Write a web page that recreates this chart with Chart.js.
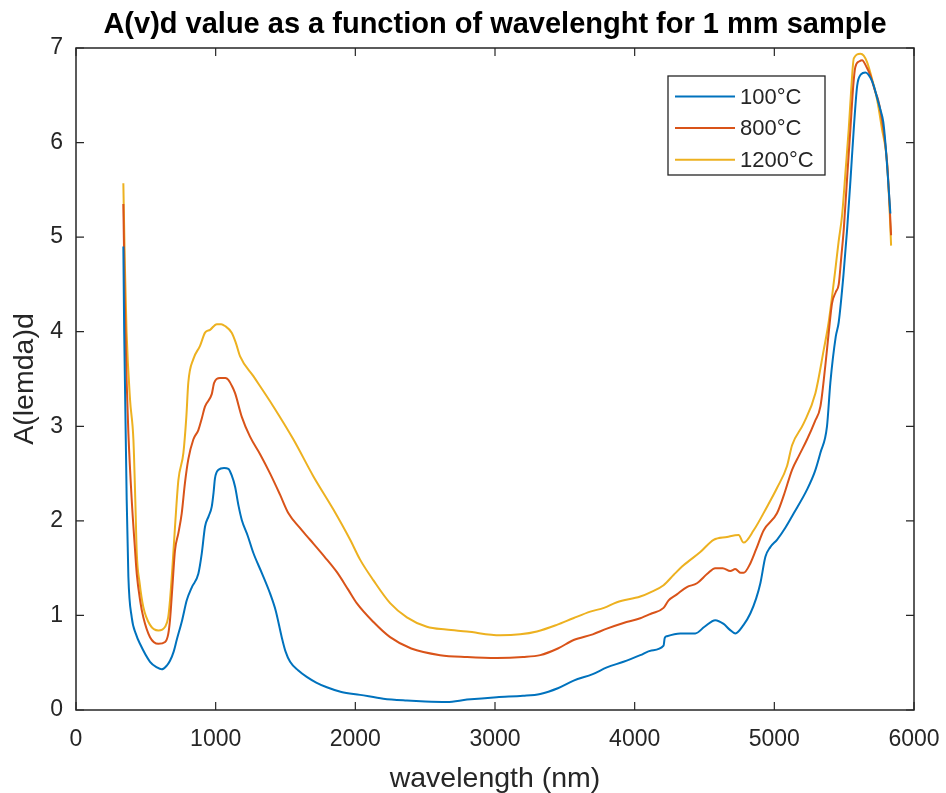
<!DOCTYPE html>
<html>
<head>
<meta charset="utf-8">
<script src="https://cdn.jsdelivr.net/npm/chart.js@4.4.1/dist/chart.umd.min.js"></script>
<style>
html,body{margin:0;padding:0;background:#fff;}
#wrap{width:946px;height:793px;position:relative;}
</style>
</head>
<body>
<div id="wrap"><canvas id="c" width="946" height="793"></canvas></div>
<script>
// ---- data ----
const seriesLabels = ['100°C', '800°C', '1200°C'];
const seriesColors = ['#0072BD', '#D95319', '#EDB120'];

const wl100 = [339,345,363,375,399,430,458,530,580,614,650,673,700,721,760,793,830,876,900,924,950,972,985,995,1020,1060,1091,1115,1139,1165,1187,1230,1270,1330,1390,1430,1473,1500,1533,1590,1652,1720,1796,1900,2034,2200,2369,2500,2655,2800,3013,3200,3324,3450,3563,3700,3801,3920,4040,4120,4207,4215,4231,4327,4434,4500,4577,4637,4680,4721,4780,4828,4870,4900,4936,4970,5019,5080,5139,5234,5290,5330,5377,5401,5440,5461,5495,5521,5545,5569,5593,5620,5652,5690,5712,5740,5759,5780,5795,5810,5831];
const val100 = [4.9,4.0,2.22,1.41,0.98,0.80,0.70,0.51,0.45,0.43,0.47,0.52,0.62,0.74,0.95,1.16,1.30,1.44,1.65,1.94,2.05,2.15,2.30,2.45,2.54,2.56,2.55,2.48,2.36,2.15,2.01,1.84,1.66,1.45,1.23,1.05,0.77,0.62,0.51,0.42,0.35,0.29,0.24,0.19,0.16,0.12,0.10,0.09,0.085,0.11,0.136,0.15,0.17,0.23,0.31,0.38,0.45,0.51,0.58,0.63,0.68,0.76,0.78,0.81,0.81,0.88,0.95,0.91,0.85,0.81,0.90,1.02,1.18,1.34,1.62,1.72,1.80,1.93,2.08,2.33,2.52,2.72,3.0,3.46,3.95,4.1,4.6,5.08,5.6,6.15,6.60,6.72,6.74,6.68,6.60,6.45,6.35,6.22,6.0,5.7,5.25];

const wl800 = [339,350,362,375,399,420,435,460,482,530,590,638,660,673,690,709,733,757,780,804,840,876,900,924,972,989,1031,1070,1091,1115,1139,1187,1246,1320,1390,1460,1521,1600,1676,1780,1867,1950,2010,2130,2249,2400,2607,2800,3013,3200,3324,3450,3563,3700,3801,3920,4040,4120,4207,4243,4300,4374,4446,4520,4577,4630,4685,4720,4760,4780,4828,4870,4924,5019,5070,5127,5180,5234,5290,5330,5365,5390,5413,5440,5461,5480,5497,5520,5545,5565,5580,5610,5628,5660,5688,5720,5747,5780,5807,5825,5836];
const val800 = [5.35,4.3,3.5,2.93,2.22,1.75,1.44,1.15,0.98,0.77,0.70,0.72,0.80,0.95,1.3,1.69,1.87,2.08,2.40,2.65,2.86,2.96,3.08,3.21,3.34,3.46,3.51,3.51,3.49,3.43,3.35,3.10,2.89,2.70,2.50,2.28,2.08,1.93,1.80,1.62,1.46,1.27,1.13,0.93,0.77,0.65,0.58,0.56,0.55,0.56,0.58,0.65,0.74,0.80,0.86,0.92,0.97,1.02,1.08,1.16,1.22,1.30,1.34,1.44,1.50,1.50,1.47,1.49,1.45,1.45,1.55,1.70,1.90,2.08,2.28,2.54,2.70,2.86,3.05,3.21,3.64,4.0,4.3,4.42,4.5,4.8,5.08,5.6,6.15,6.6,6.80,6.86,6.87,6.80,6.71,6.55,6.43,6.15,5.79,5.35,5.02];

const wl1200 = [339,350,362,387,411,425,435,455,482,530,590,638,660,673,690,709,733,769,790,804,840,888,924,960,1008,1040,1067,1115,1145,1175,1270,1413,1557,1700,1843,1963,2034,2130,2249,2369,2512,2650,2799,3037,3180,3300,3443,3560,3682,3780,3873,4040,4120,4207,4280,4350,4470,4565,4661,4744,4780,4852,4948,5020,5091,5127,5210,5294,5354,5389,5437,5460,5485,5510,5533,5550,5569,5616,5640,5664,5700,5735,5770,5807,5825,5836];
const val1200 = [5.57,4.7,4.0,3.28,2.86,2.2,1.66,1.35,1.09,0.90,0.84,0.88,0.98,1.16,1.5,1.94,2.43,2.72,3.1,3.46,3.71,3.85,3.99,4.02,4.08,4.08,4.06,3.99,3.88,3.74,3.53,3.21,2.86,2.47,2.12,1.80,1.59,1.37,1.13,0.98,0.88,0.85,0.83,0.79,0.80,0.83,0.90,0.97,1.04,1.08,1.14,1.20,1.25,1.32,1.43,1.53,1.67,1.80,1.83,1.85,1.77,1.90,2.15,2.35,2.58,2.80,3.03,3.35,3.81,4.10,4.66,4.95,5.23,5.7,6.15,6.55,6.89,6.94,6.92,6.85,6.67,6.46,6.15,5.79,5.3,4.91];

const xTicks = [0,1000,2000,3000,4000,5000,6000];
const yTicks = [0,1,2,3,4,5,6,7];

const titleText = 'A(v)d value as a function of wavelenght for 1 mm sample';
const xTitle = 'wavelength (nm)';
const yTitle = 'A(lemda)d';

// ---- build ----
function pts(xs, ys){ return xs.map((x,i)=>({x:x, y:ys[i]})); }
const allX = [wl100, wl800, wl1200];
const allY = [val100, val800, val1200];
const datasets = seriesLabels.map((lab,i)=>({
  label: lab,
  data: pts(allX[i], allY[i]),
  borderColor: seriesColors[i],
  backgroundColor: seriesColors[i],
  borderWidth: 2,
  pointRadius: 0,
  fill: false,
  cubicInterpolationMode: 'monotone'
}));

const FONT = "'Liberation Sans', Arial, sans-serif";
const AXC = '#262626';

const decor = {
  id: 'decor',
  afterDraw(chart){
    const ctx = chart.ctx;
    const a = chart.chartArea;
    const xs = chart.scales.x, ys = chart.scales.y;
    ctx.save();
    // box
    ctx.strokeStyle = AXC;
    ctx.lineWidth = 1.5;
    ctx.strokeRect(a.left, a.top, a.right - a.left, a.bottom - a.top);
    // inward ticks
    ctx.lineWidth = 1.2;
    const tl = 8;
    ctx.beginPath();
    xTicks.forEach(v=>{
      const p = xs.getPixelForValue(v);
      ctx.moveTo(p, a.bottom); ctx.lineTo(p, a.bottom - tl);
      ctx.moveTo(p, a.top); ctx.lineTo(p, a.top + tl);
    });
    yTicks.forEach(v=>{
      const p = ys.getPixelForValue(v);
      ctx.moveTo(a.left, p); ctx.lineTo(a.left + tl, p);
      ctx.moveTo(a.right, p); ctx.lineTo(a.right - tl, p);
    });
    ctx.stroke();

    // title
    ctx.fillStyle = '#000';
    ctx.font = 'bold 29px ' + FONT;
    ctx.textAlign = 'center';
    ctx.textBaseline = 'alphabetic';
    ctx.fillText(titleText, (a.left + a.right)/2, 33);

    // axis titles
    ctx.fillStyle = AXC;
    ctx.font = '28.5px ' + FONT;
    ctx.fillText(xTitle, (a.left + a.right)/2, 787);
    ctx.save();
    ctx.translate(33, (a.top + a.bottom)/2);
    ctx.rotate(-Math.PI/2);
    ctx.fillText(yTitle, 0, 0);
    ctx.restore();

    // legend
    const lx = a.right - 246, ly = a.top + 28, lw = 157, lh = 99;
    ctx.fillStyle = '#fff';
    ctx.fillRect(lx, ly, lw, lh);
    ctx.strokeStyle = AXC;
    ctx.lineWidth = 1.3;
    ctx.strokeRect(lx, ly, lw, lh);
    ctx.font = '22px ' + FONT;
    ctx.textAlign = 'left';
    ctx.textBaseline = 'middle';
    chart.data.datasets.forEach((ds, i)=>{
      const cy = ly + 20.5 + i*31.6;
      ctx.strokeStyle = ds.borderColor;
      ctx.lineWidth = 2;
      ctx.beginPath();
      ctx.moveTo(lx + 7, cy); ctx.lineTo(lx + 67, cy);
      ctx.stroke();
      ctx.fillStyle = AXC;
      ctx.fillText(ds.label, lx + 72, cy + 1);
    });
    ctx.restore();
  }
};

new Chart(document.getElementById('c'), {
  type: 'line',
  data: { datasets },
  options: {
    responsive: false,
    animation: false,
    parsing: true,
    layout: { padding: { left: 0, right: 32, top: 48, bottom: 0 } },
    plugins: { legend: { display: false }, title: { display: false }, tooltip: { enabled: false } },
    scales: {
      x: {
        type: 'linear', min: 0, max: 6000,
        afterBuildTicks: s => { s.ticks = xTicks.map(v=>({value:v})); },
        afterFit: s => { s.height = 83; s.paddingRight = 0; s.paddingLeft = 0; },
        grid: { display: false, drawTicks: false },
        border: { display: false },
        ticks: { font: { size: 23, family: FONT }, color: AXC, padding: 16, maxRotation: 0,
                 callback: v => String(v) }
      },
      y: {
        type: 'linear', min: 0, max: 7,
        afterBuildTicks: s => { s.ticks = yTicks.map(v=>({value:v})); },
        afterFit: s => { s.width = 76; s.paddingTop = 0; s.paddingBottom = 0; },
        grid: { display: false, drawTicks: false },
        border: { display: false },
        ticks: { font: { size: 23, family: FONT }, color: AXC, padding: 13,
                 callback: v => String(v) }
      }
    }
  },
  plugins: [decor]
});
</script>
</body>
</html>
